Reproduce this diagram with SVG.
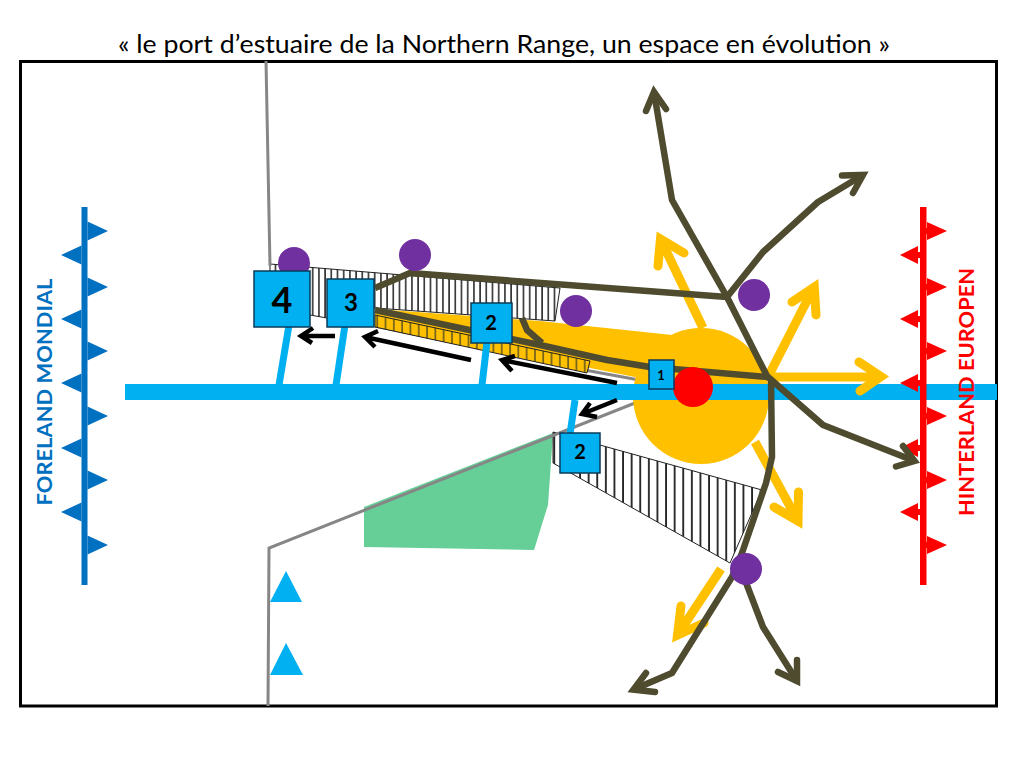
<svg xmlns="http://www.w3.org/2000/svg" width="1024" height="768" viewBox="0 0 1024 768">
<style>
text{font-family:"Lato","Open Sans","Liberation Sans",sans-serif}
.road{fill:none;stroke:#4f4b2f;stroke-width:6.500;stroke-linejoin:round;stroke-linecap:butt}
.rhead{fill:none;stroke:#4f4b2f;stroke-width:6.500;stroke-linejoin:miter;stroke-linecap:round}
.flow{fill:none;stroke:#ffc000;stroke-width:9;stroke-linejoin:miter}
.fhead{fill:none;stroke:#ffc000;stroke-width:9;stroke-linejoin:miter;stroke-linecap:round}
.mv{fill:none;stroke:#000;stroke-width:4.500;stroke-linejoin:miter}
.stem{fill:none;stroke:#00b0f0;stroke-width:7}
.coast{fill:none;stroke:#868686;stroke-width:3}
.port{fill:#00b0f0;stroke:#0b3a5a;stroke-width:1.500}
.num{font-weight:700;text-anchor:middle;fill:#000}
.pur{fill:#7030a0}
.blue{fill:#0070c0}.red{fill:#f00}
.tri{fill:#00b0f0}
</style>
<defs>
<pattern id="h" width="8.600" height="10" patternUnits="userSpaceOnUse"><rect width="8.600" height="10" fill="#fff"/><rect x="3" width="1.700" height="10" fill="#111"/></pattern>
<pattern id="h2" width="6.200" height="10" patternUnits="userSpaceOnUse"><rect width="6.200" height="10" fill="#fff"/><rect x="2" width="1.400" height="10" fill="#111"/></pattern>
<pattern id="o" width="8.300" height="10" patternUnits="userSpaceOnUse"><rect width="8.300" height="10" fill="#ffc000"/><rect x="3" width="1.500" height="10" fill="#5f5420"/></pattern>
</defs>
<rect x="20.500" y="61.500" width="976" height="644.500" fill="#fff" stroke="#000" stroke-width="3"/>
<text x="504" y="53" font-size="25.500" text-anchor="middle" textLength="772" lengthAdjust="spacingAndGlyphs">« le port d’estuaire de la Northern Range, un espace en évolution »</text>

<g id="land">
<path fill="#66cf97" d="M364 507L553 433L548 505L534 550L364 547Z"/>
<path fill="url(#h2)" stroke="#222" stroke-width="1" d="M270 264L560 288L555 321L375 308L327 318L310 315L270 300Z"/>
<path fill="url(#h)" stroke="#222" stroke-width="1" d="M553 432L762 490L730 563L553 463Z"/>
</g>
<g id="coast">
<path class="coast" d="M266 61L270 266M375 326L590 371L650 382"/>
<path class="coast" d="M268 706L269 548L640 401"/>
</g>
<g id="port-zone">
<path fill="#ffc000" d="M375 309L540 321L672 335L680 382L650 380L590 368L375 315Z"/>
<circle cx="701" cy="396" r="68" fill="#ffc000"/>
<path fill="url(#o)" stroke="#222" stroke-width="1" d="M375 315L590 361L587 373L375 327Z"/>
</g>
<g id="sea-lane">
<path class="stem" d="M289 325L279 385M345 325L336 385M487 342L482 385M575 400L570 434"/>
<rect x="125" y="384" width="872" height="16" fill="#00b0f0"/>
</g>
<g id="hinterland-line">
<rect x="920" y="207" width="6.500" height="378" class="red"/>
<path class="red" d="M927 222L947 231L927 240ZM927 278L947 287L927 296ZM927 342L947 351L927 360ZM927 407L947 416L927 425ZM927 471L947 480L927 489ZM927 536L947 545L927 554Z"/>
<path class="red" d="M925 228h3v6h-3ZM925 284h3v6h-3ZM925 348h3v6h-3ZM925 413h3v6h-3ZM925 477h3v6h-3ZM925 542h3v6h-3Z"/>
<path class="red" d="M918 246L900 255L918 264ZM918 310L900 319L918 328ZM918 374L900 383L918 392ZM918 439L900 448L918 457ZM918 503L900 512L918 521Z"/>
<path class="red" d="M917 252h4v6h-4ZM917 316h4v6h-4ZM917 380h4v6h-4ZM917 445h4v6h-4ZM917 509h4v6h-4Z"/>
</g>
<g id="connectors">
<g id="moves">
<path class="mv" d="M335 336H301M313 328L301 336L312 343"/>
<path class="mv" d="M471 360L365 337M378 331L365 337L375 347"/>
<path class="mv" d="M617 383L502 360M515 356L502 360L512 371"/>
<path class="mv" d="M617 400L582 414M590 403L582 414L597 417"/>
</g>
<g id="flows">
<path class="flow" d="M703 328L660.500 239"/><path class="fhead" d="M658 266L660.500 239L684 253"/>
<path class="flow" d="M768 377L814 287"/><path class="fhead" d="M792 302L814.300 287L816 315"/>
<path class="flow" d="M768 377H881"/><path class="fhead" d="M859 362L881 376.500L860 391"/>
<path class="flow" d="M755 442L798 521"/><path class="fhead" d="M798.500 492L798 521L774 507"/>
<path class="flow" d="M721 569L677.500 635"/><path class="fhead" d="M681 606L677.500 635L704 623"/>
</g>
<g id="roads">
<path class="road" d="M375 288L410 273L727 297"/>
<path class="road" stroke-width="7" d="M375 310L540 345L607 360L650 367L768 377"/>
<path class="road" d="M522 318L527 330L542 343"/>
<path class="road" d="M768 378L727 297L672 200L654 92"/><path class="rhead" d="M646 111L654 92L666 109"/>
<path class="road" d="M727 297L763 252L818 202L863 175"/><path class="rhead" d="M842 175.500L863 175L853 193"/>
<path class="road" d="M768 377L823 425L914.500 461"/><path class="rhead" d="M903 446L914.500 461L896 466.500"/>
<path class="road" d="M771 379L772 457L766 483L742 553L732 577L672 673L633.500 689.600"/><path class="rhead" d="M646 673L633.500 689.600L655 692"/>
<path class="road" d="M745 580L763 627L797 681"/><path class="rhead" d="M797 660L797 681L778 672"/>
</g>
</g>
<g id="red-centre"><circle cx="693" cy="387" r="20" fill="#f00"/></g>
<g id="hubs">
<circle class="pur" cx="294" cy="263" r="16"/>
<circle class="pur" cx="415" cy="255" r="16"/>
<circle class="pur" cx="576" cy="311" r="16"/>
<circle class="pur" cx="754" cy="295" r="16"/>
<circle class="pur" cx="746" cy="569" r="16"/>
</g>
<g id="port4"><rect class="port" x="254" y="271" width="56" height="56"/><text class="num" x="282" y="313" font-size="36">4</text></g>
<g id="port3"><rect class="port" x="327" y="279" width="47" height="48"/><text class="num" x="351" y="311" font-size="24">3</text></g>
<g id="port2a"><rect class="port" x="471" y="303" width="41" height="40"/><text class="num" x="491" y="330" font-size="20">2</text></g>
<g id="port1"><rect class="port" x="649" y="360" width="25" height="29"/><text class="num" x="661" y="380" font-size="13">1</text></g>
<g id="port2b"><rect class="port" x="560" y="433" width="40" height="40"/><text class="num" x="580" y="459" font-size="20">2</text></g>
<g id="triangles">
<path class="tri" d="M286 571L302 602H270Z"/>
<path class="tri" d="M286 643L303 675H270Z"/>
</g>
<g id="foreland">
<rect x="81.500" y="207" width="6" height="378" class="blue"/>
<path class="blue" d="M87.500 221.500L108 231L87.500 240.500ZM87.500 277.500L108 287L87.500 296.500ZM87.500 341.500L108 351L87.500 360.500ZM87.500 406.500L108 416L87.500 425.500ZM87.500 470.500L108 480L87.500 489.500ZM87.500 535.500L108 545L87.500 554.500Z"/>
<path class="blue" d="M81.500 245.500L61 255L81.500 264.500ZM81.500 309.500L61 319L81.500 328.500ZM81.500 373.500L61 383L81.500 392.500ZM81.500 438.500L61 448L81.500 457.500ZM81.500 502.500L61 512L81.500 521.500Z"/>
<text transform="translate(52 392) rotate(-90)" font-size="20.500" font-weight="700" text-anchor="middle" fill="#0070c0" textLength="227" lengthAdjust="spacingAndGlyphs">FORELAND MONDIAL</text>
</g>
<g id="hinterland-label">
<text transform="translate(974 392) rotate(-90)" font-size="20.500" font-weight="700" text-anchor="middle" fill="#f00" textLength="248" lengthAdjust="spacingAndGlyphs">HINTERLAND EUROPEN</text>
</g>
</svg>
